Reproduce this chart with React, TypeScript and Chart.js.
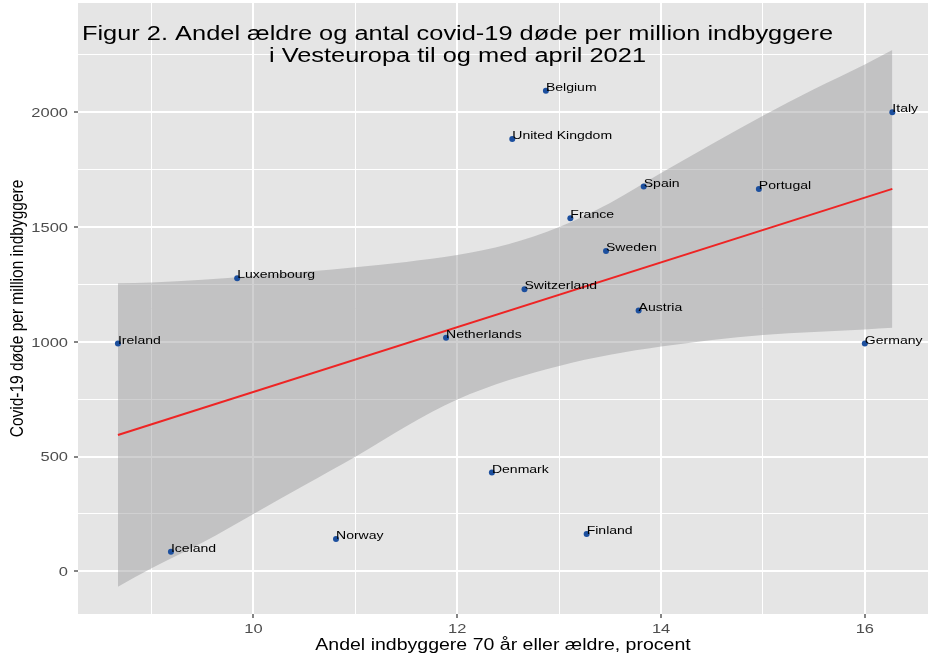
import React, { useEffect, useRef } from "react";
import { Chart, registerables } from "chart.js";

Chart.register(...registerables);

// ---------- data ----------
const countries = [
  "Belgium", "United Kingdom", "Italy", "Spain", "Portugal", "France", "Sweden",
  "Luxembourg", "Switzerland", "Austria", "Ireland", "Netherlands", "Germany",
  "Denmark", "Finland", "Norway", "Iceland",
];
const elderlyShare = [
  12.87, 12.54, 16.27, 13.83, 14.96, 13.11, 13.46,
  9.84, 12.66, 13.78, 8.67, 11.89, 16.0,
  12.34, 13.27, 10.81, 9.19,
];
const deathsPerMillion = [
  2094, 1884, 2000, 1676, 1666, 1538, 1396,
  1277, 1229, 1136, 993, 1018, 993,
  431, 163, 141, 85,
];

// linear fit (red line)
const fitX = [8.67, 16.27];
const fitY = [594, 1666];

// confidence band
const bandX = [8.67, 9, 9.5, 10, 10.5, 11, 11.5, 12, 12.5, 13, 13.5, 14, 14.5, 15, 15.5, 16, 16.27];
const bandUpper = [1255, 1258, 1270, 1288, 1305, 1325, 1348, 1378, 1425, 1500, 1605, 1735, 1862, 1985, 2100, 2208, 2271];
const bandLower = [-67, 13, 125, 250, 375, 499, 632, 748, 832, 895, 943, 979, 1008, 1030, 1043, 1054, 1061];

// axes
const xGridValues = [9, 10, 11, 12, 13, 14, 15, 16];
const xLabelValues = [10, 12, 14, 16];
const yGridValues = [0, 250, 500, 750, 1000, 1250, 1500, 1750, 2000, 2250];
const yLabelValues = [0, 500, 1000, 1500, 2000];

const titleLines = [
  "Figur 2. Andel ældre og antal covid-19 døde per million indbyggere",
  "i Vesteuropa til og med april 2021",
];
const xTitle = "Andel indbyggere 70 år eller ældre, procent";
const yTitle = "Covid-19 døde per million indbyggere";

const FONT = "'Liberation Sans', Arial, sans-serif";
const STRETCH = 1.22;

export default function App() {
  const ref = useRef<HTMLCanvasElement | null>(null);

  useEffect(() => {
    const canvas = ref.current;
    if (!canvas) return;

    const panelBg = {
      id: "panelBg",
      beforeDraw(chart: any) {
        const { ctx, chartArea: a } = chart;
        ctx.save();
        ctx.fillStyle = "#E5E5E5";
        ctx.fillRect(a.left, a.top, a.right - a.left, a.bottom - a.top);
        ctx.restore();
      },
    };

    const pointLabels = {
      id: "pointLabels",
      afterDatasetsDraw(chart: any) {
        const { ctx } = chart;
        const meta = chart.getDatasetMeta(3);
        ctx.save();
        ctx.font = `11.5px ${FONT}`;
        ctx.fillStyle = "#000000";
        ctx.textAlign = "left";
        ctx.textBaseline = "middle";
        meta.data.forEach((el: any, i: number) => {
          ctx.save();
          ctx.translate(el.x, el.y - 3);
          ctx.scale(STRETCH, 1);
          ctx.fillText(countries[i], 0, 0);
          ctx.restore();
        });
        ctx.restore();
      },
    };

    const texts = {
      id: "texts",
      afterDraw(chart: any) {
        const { ctx, chartArea: a } = chart;
        const xs = chart.scales.x;
        const ys = chart.scales.y;
        ctx.save();
        // tick labels (stretched like the reference)
        ctx.fillStyle = "#4D4D4D";
        ctx.font = `13.5px ${FONT}`;
        ctx.textBaseline = "alphabetic";
        ctx.textAlign = "center";
        xLabelValues.forEach((v) => {
          ctx.save();
          ctx.translate(xs.getPixelForValue(v), a.bottom + 19);
          ctx.scale(STRETCH, 1);
          ctx.fillText(String(v), 0, 0);
          ctx.restore();
        });
        ctx.textAlign = "right";
        yLabelValues.forEach((v) => {
          ctx.save();
          ctx.translate(a.left - 10, ys.getPixelForValue(v) + 4.8);
          ctx.scale(STRETCH, 1);
          ctx.fillText(String(v), 0, 0);
          ctx.restore();
        });

        ctx.fillStyle = "#000000";
        ctx.textAlign = "center";
        ctx.textBaseline = "alphabetic";
        ctx.font = `20px ${FONT}`;
        const cx = 457.5;
        titleLines.forEach((t, i) => {
          ctx.save();
          ctx.translate(cx, 40 + i * 22);
          ctx.scale(1.27, 1);
          ctx.fillText(t, 0, 0);
          ctx.restore();
        });
        // x title
        ctx.font = `16px ${FONT}`;
        ctx.textBaseline = "middle";
        ctx.save();
        ctx.translate((a.left + a.right) / 2, 646);
        ctx.scale(STRETCH, 1);
        ctx.fillText(xTitle, 0, 0);
        ctx.restore();
        // y title
        ctx.font = `15.5px ${FONT}`;
        ctx.save();
        ctx.translate(18, (a.top + a.bottom) / 2);
        ctx.scale(STRETCH, 1);
        ctx.rotate(-Math.PI / 2);
        ctx.fillText(yTitle, 0, 0);
        ctx.restore();
        ctx.restore();
      },
    };

    const chart = new Chart(canvas, {
      type: "scatter",
      data: {
        datasets: [
          {
            label: "lower",
            data: bandX.map((x, i) => ({ x, y: bandLower[i] })),
            showLine: true,
            pointRadius: 0,
            borderWidth: 0,
            borderColor: "rgba(0,0,0,0)",
            cubicInterpolationMode: "monotone",
            fill: false,
            order: 3,
          },
          {
            label: "upper",
            data: bandX.map((x, i) => ({ x, y: bandUpper[i] })),
            showLine: true,
            pointRadius: 0,
            borderWidth: 0,
            borderColor: "rgba(0,0,0,0)",
            backgroundColor: "rgba(150,150,152,0.45)",
            cubicInterpolationMode: "monotone",
            fill: "-1",
            order: 2,
          },
          {
            label: "fit",
            data: fitX.map((x, i) => ({ x, y: fitY[i] })),
            showLine: true,
            pointRadius: 0,
            borderWidth: 2,
            borderColor: "#EE2424",
            fill: false,
            order: 1,
          },
          {
            label: "countries",
            data: elderlyShare.map((x, i) => ({ x, y: deathsPerMillion[i] })),
            pointRadius: 3,
            pointHoverRadius: 3,
            pointBackgroundColor: "#1C4F9E",
            pointBorderColor: "#1C4F9E",
            pointBorderWidth: 0,
            order: 0,
          },
        ],
      },
      options: {
        animation: false,
        responsive: false,
        maintainAspectRatio: false,
        layout: { autoPadding: false, padding: { top: 3, right: 0, left: 0, bottom: 0 } },
        plugins: {
          legend: { display: false },
          tooltip: { enabled: false },
          title: { display: false },
        },
        scales: {
          x: {
            type: "linear",
            min: 8.278,
            max: 16.62,
            afterBuildTicks: (scale: any) => {
              scale.ticks = xGridValues.map((v) => ({ value: v }));
            },
            afterFit: (scale: any) => {
              scale.height = 45;
              scale.paddingLeft = 0;
              scale.paddingRight = 0;
              scale.paddingTop = 0;
              scale.paddingBottom = 0;
            },
            border: { display: false },
            grid: {
              color: "#FFFFFF",
              lineWidth: (c: any) => (xLabelValues.includes(c.tick?.value) ? 2 : 1),
              tickColor: (c: any) => (xLabelValues.includes(c.tick?.value) ? "#333333" : "rgba(0,0,0,0)"),
              tickLength: 4,
              tickWidth: 1.2,
            },
            ticks: {
              autoSkip: false,
              maxRotation: 0,
              padding: 3,
              color: "rgba(0,0,0,0)",
              font: { family: FONT, size: 13 },
              callback: (v: any) => (xLabelValues.includes(Number(v)) ? String(v) : ""),
            },
          },
          y: {
            type: "linear",
            min: -186,
            max: 2476,
            afterBuildTicks: (scale: any) => {
              scale.ticks = yGridValues.map((v) => ({ value: v }));
            },
            afterFit: (scale: any) => {
              scale.width = 78;
              scale.paddingLeft = 0;
              scale.paddingRight = 0;
              scale.paddingTop = 0;
              scale.paddingBottom = 0;
            },
            border: { display: false },
            grid: {
              color: "#FFFFFF",
              lineWidth: (c: any) => (yLabelValues.includes(c.tick?.value) ? 2 : 1),
              tickColor: (c: any) => (yLabelValues.includes(c.tick?.value) ? "#333333" : "rgba(0,0,0,0)"),
              tickLength: 4,
              tickWidth: 1.2,
            },
            ticks: {
              autoSkip: false,
              padding: 6,
              color: "rgba(0,0,0,0)",
              font: { family: FONT, size: 13 },
              callback: (v: any) => (yLabelValues.includes(Number(v)) ? String(v) : ""),
            },
          },
        },
      },
      plugins: [panelBg, pointLabels, texts],
    } as any);

    return () => chart.destroy();
  }, []);

  return (
    <div style={{ position: "fixed", left: 0, top: 0, width: 928, height: 659, background: "#FFFFFF" }}>
      <canvas ref={ref} width={928} height={659} style={{ display: "block", width: 928, height: 659 }} />
    </div>
  );
}
